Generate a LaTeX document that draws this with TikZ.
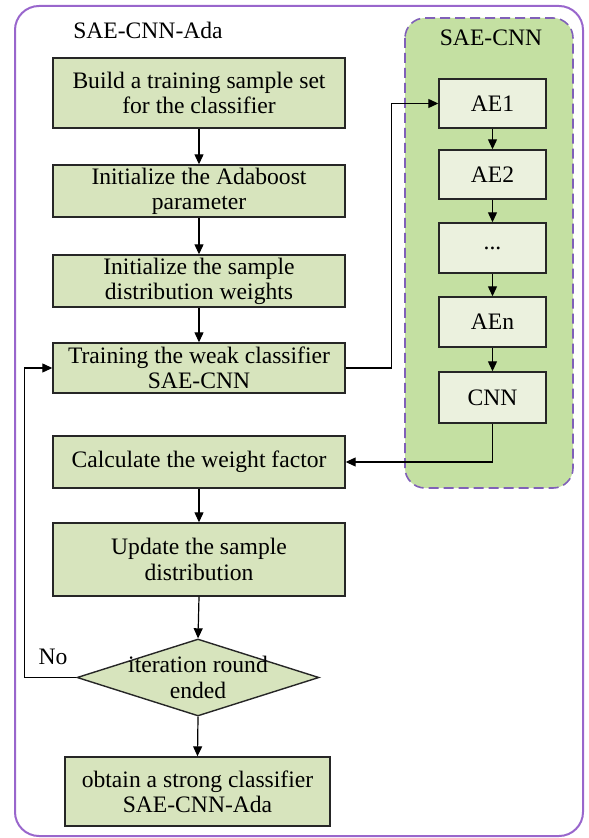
\documentclass[tikz,border=0pt]{standalone}
\usepackage{fontspec}
\setmainfont{Liberation Serif}
\usetikzlibrary{arrows.meta,shapes.geometric}
\definecolor{boxgreen}{HTML}{D7E4BD}
\definecolor{lightbox}{HTML}{EBF1DE}
\definecolor{contgreen}{HTML}{C4E0A2}
\definecolor{outerpurple}{HTML}{9966CC}
\definecolor{dashpurple}{HTML}{8060B8}
\newcommand{\fsz}{\fontsize{11.8}{12.6}\selectfont}
\begin{document}
\begin{tikzpicture}[x=0.5pt,y=-0.5pt,
  lbox/.style={draw=black!85, line width=0.7pt, fill=boxgreen, inner sep=0pt, align=center, font=\fsz},
  rbox/.style={draw=black!85, line width=0.7pt, fill=lightbox, inner sep=0pt, align=center, font=\fsz, minimum width=53.5pt, minimum height=25pt},
  arr/.style={draw=black, line width=0.6pt, -{Triangle[length=5pt,width=4.5pt]}},
  lbl/.style={font=\fsz, inner sep=0pt}]
\useasboundingbox (0,0) rectangle (588,838);
% outer frame
\draw[outerpurple, line width=1pt, rounded corners=12pt] (15,6) rectangle (583,836);
% SAE-CNN container
\draw[dashpurple, fill=contgreen, line width=0.8pt, dash pattern=on 5pt off 2.5pt, rounded corners=10pt] (405,18) rectangle (573,488);
\node[lbl] (t1) at (148,30) {SAE-CNN-Ada};
\node[lbl] (t2) at (491,38) {SAE-CNN};
% left column
\node[lbox, minimum width=146pt, minimum height=35pt] (b1) at (199,93) {Build a training sample set\\for the classifier};
\node[lbox, minimum width=146pt, minimum height=26pt] (b2) at (199,191) {Initialize the Adaboost\\parameter};
\node[lbox, minimum width=146pt, minimum height=26pt] (b3) at (199,281) {Initialize the sample\\distribution weights};
\node[lbox, minimum width=146pt, minimum height=25pt] (b4) at (199,368) {Training the weak classifier\\SAE-CNN};
\node[lbox, minimum width=146pt, minimum height=26pt] (b5) at (199,462) {Calculate the weight factor};
\node[lbox, minimum width=146pt, minimum height=36.5pt] (b6) at (199,559.5) {Update the sample\\distribution};
\node[diamond, draw=black!85, line width=0.7pt, fill=boxgreen, inner sep=0pt, minimum width=121pt, minimum height=38.5pt] (d) at (198,677.5) {};
\node[lbl, align=center] (dt) at (d) {iteration round\\ended};
\node[lbox, minimum width=132.5pt, minimum height=34.5pt] (b7) at (197.5,791.5) {obtain a strong classifier\\SAE-CNN-Ada};
% right column
\node[rbox, minimum height=24.5pt] (ae1) at (492.5,103.5) {AE1};
\node[rbox, minimum height=24.5pt] (ae2) at (492.5,174.5) {AE2};
\node[rbox] (dots) at (492.5,248) {...};
\node[rbox] (aen) at (492.5,322) {AEn};
\node[rbox, minimum height=25.5pt] (cnn) at (492.5,397.5) {CNN};
% arrows
\draw[arr] (b1.south) -- (b2.north);
\draw[arr] (b2.south) -- (b3.north);
\draw[arr] (b3.south) -- (b4.north);
\draw[arr] (b5.south) -- (b6.north);
\draw[arr] (b6.south) -- (d.north);
\draw[arr] (d.south) -- (b7.north);
\draw[arr] (ae1.south) -- (ae2.north);
\draw[arr] (ae2.south) -- (dots.north);
\draw[arr] (dots.south) -- (aen.north);
\draw[arr] (aen.south) -- (cnn.north);
\draw[arr] (b4.east) -- ++(46,0) |- (ae1.west);
\draw[arr] (cnn.south) |- (b5.east);
\draw[arr] (d.west) -- ++(-52,0) |- (b4.west);
\node[lbl] (no) at (53,657) {No};
\end{tikzpicture}
\end{document}
